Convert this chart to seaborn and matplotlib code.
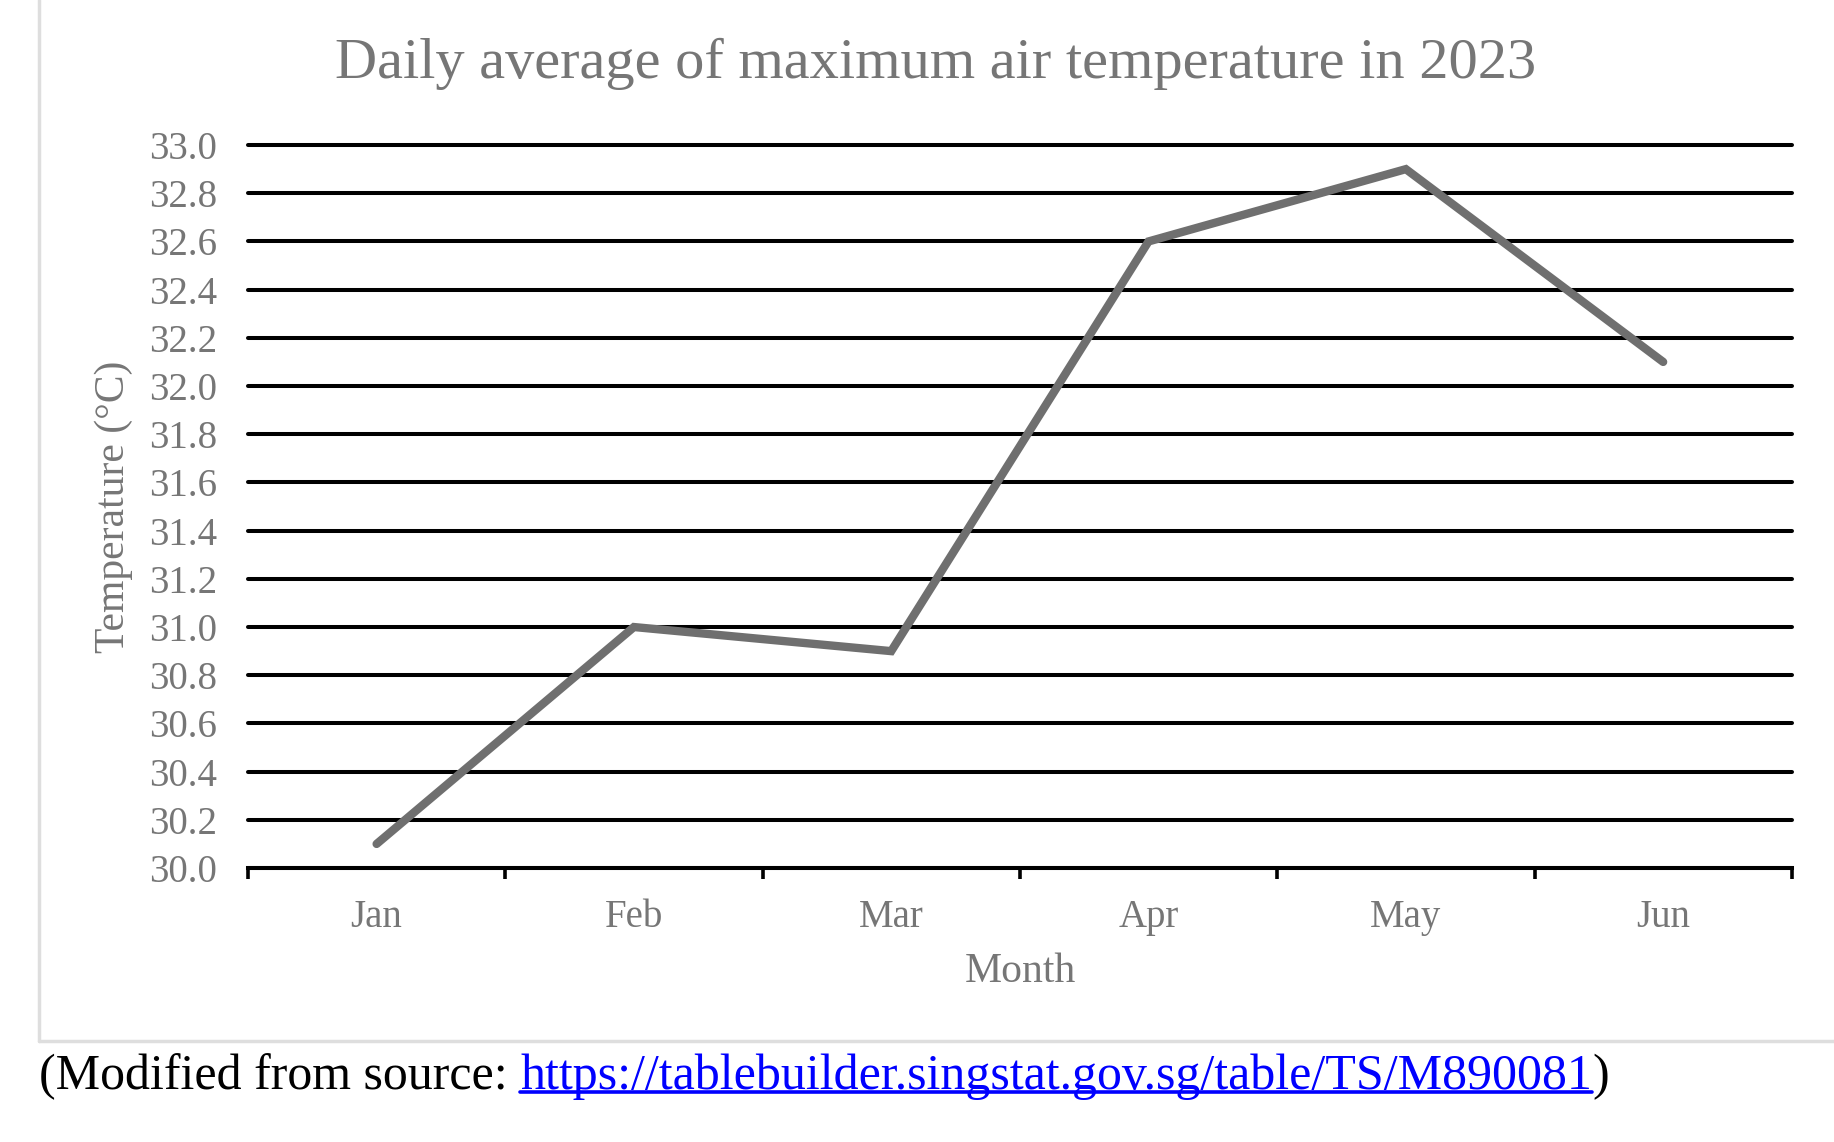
import matplotlib.pyplot as plt
import numpy as np
import pandas as pd
import seaborn as sns
from matplotlib.lines import Line2D

months = ['Jan', 'Feb', 'Mar', 'Apr', 'May', 'Jun']
max_temp = [30.1, 31.0, 30.9, 32.6, 32.9, 32.1]
y_ticks = np.round(np.arange(30.0, 33.01, 0.2), 1)

title = 'Daily average of maximum air temperature in 2023'
source_prefix = '(Modified from source: '
source_url = 'https://tablebuilder.singstat.gov.sg/table/TS/M890081'

TEXT_GREY = '#767676'
LINE_GREY = '#6f6f6f'

df = pd.DataFrame({'month': months, 'temp': max_temp})
df['pos'] = np.arange(len(months))

sns.set_theme(style='white')
plt.rcParams['font.family'] = ['Liberation Serif', 'DejaVu Serif']

fig = plt.figure(figsize=(18.34, 11.42), dpi=100)
ax = fig.add_axes([0.1352, 0.2399, 0.977 - 0.1352, 0.873 - 0.2399])

# horizontal grid lines
for y in y_ticks:
    ax.axhline(y, color='black', lw=2.9, zorder=1, clip_on=False)

sns.lineplot(data=df, x='pos', y='temp', color=LINE_GREY, lw=6.0,
             solid_capstyle='round', solid_joinstyle='miter', ax=ax, zorder=3)

ax.set_xlim(-0.5, len(months) - 0.5)
ax.set_ylim(30.0, 33.0)
ax.set_xticks(df['pos'])
ax.set_xticklabels(months)
ax.set_xticks(np.arange(-0.5, len(months)), minor=True)
ax.set_yticks(y_ticks)
ax.set_yticklabels([f'{v:.1f}' for v in y_ticks])

for s in ['top', 'right', 'left']:
    ax.spines[s].set_visible(False)
ax.spines['bottom'].set_color('black')
ax.spines['bottom'].set_linewidth(2.9)
ax.spines['bottom'].set_zorder(2)

ax.tick_params(axis='x', which='major', length=0, pad=22, labelsize=28,
               labelcolor=TEXT_GREY)
ax.tick_params(axis='x', which='minor', length=8, width=2.6, color='black',
               direction='out', bottom=True)
ax.tick_params(axis='y', length=0, pad=22, labelsize=28, labelcolor=TEXT_GREY)

ax.set_xlabel('Month', fontsize=30, color=TEXT_GREY, labelpad=12)
ax.set_ylabel('Temperature (°C)', fontsize=30, color=TEXT_GREY, labelpad=12)
fig.text(0.51, 0.944, title, ha='center', va='center', fontsize=42,
         color=TEXT_GREY)

# chart frame (left and bottom edges visible)
frame_c = '#dedede'
fig.add_artist(Line2D([0.0213, 0.0213], [1.0, 1 - 1041 / 1142],
                      color=frame_c, lw=2.5, transform=fig.transFigure))
fig.add_artist(Line2D([0.0213, 1.0], [1 - 1041 / 1142, 1 - 1041 / 1142],
                      color=frame_c, lw=2.5, transform=fig.transFigure))

# source footnote with underlined link
y_src = 1 - 1077 / 1142
t1 = fig.text(0.0213, y_src, source_prefix, ha='left', va='center',
              fontsize=36, color='black')
fig.canvas.draw()
r = fig.canvas.get_renderer()
bb1 = t1.get_window_extent(r).transformed(fig.transFigure.inverted())
t2 = fig.text(bb1.x1, y_src, source_url, ha='left', va='center',
              fontsize=36, color='#0000ff')
fig.canvas.draw()
bb2 = t2.get_window_extent(r).transformed(fig.transFigure.inverted())
fig.text(bb2.x1, y_src, ')', ha='left', va='center', fontsize=36,
         color='black')
y_ul = bb2.y0 + 0.007
fig.add_artist(Line2D([bb2.x0, bb2.x1], [y_ul, y_ul], color='#0000ff',
                      lw=2.6, transform=fig.transFigure))

fig.savefig('out.png', dpi=100, facecolor='white')
